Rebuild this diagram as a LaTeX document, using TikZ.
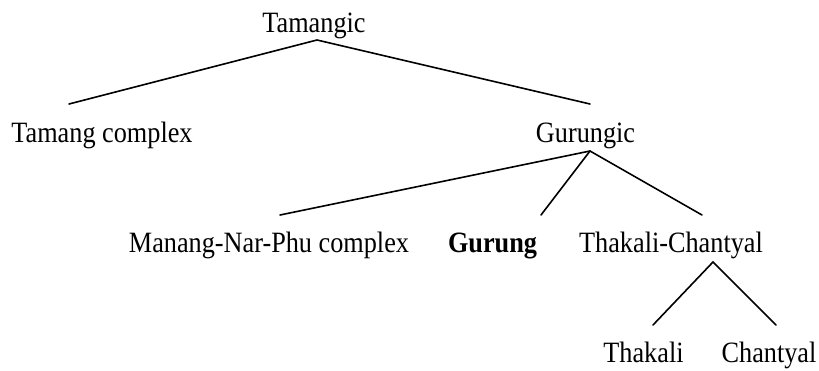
\documentclass[tikz,border=0pt]{standalone}
\usepackage{fontspec}
\setmainfont[FakeStretch=0.89]{Liberation Serif}
\begin{document}
\begin{tikzpicture}[x=1pt,y=-1pt,
  lang/.style={inner sep=0pt,anchor=base,font=\fontsize{29.5}{34}\selectfont},
  branch/.style={line width=1.6pt,line cap=round}]
\useasboundingbox (0,0) rectangle (819,370);
% labels
\node[lang] (tamangic) at (314,32) {Tamangic};
\node[lang] (tamang) at (102,142) {Tamang complex};
\node[lang] (gurungic) at (585.5,142) {Gurungic};
\node[lang] (manang) at (269,252) {Manang-Nar-Phu complex};
\node[lang,font=\fontsize{29.5}{34}\selectfont\bfseries] (gurung) at (492.5,252) {Gurung};
\node[lang] (thch) at (671,252) {Thakali-Chantyal};
\node[lang] (thakali) at (643.5,362) {Thakali};
\node[lang] (chantyal) at (769,362) {Chantyal};
% branch points
\coordinate (tamangic-b) at (317,40);
\coordinate (tamang-t) at (69,104);
\coordinate (gurungic-t) at (590,104);
\coordinate (gurungic-b) at (590,151);
\coordinate (manang-t) at (280,215);
\coordinate (gurung-t) at (541,215);
\coordinate (thch-t) at (702,215);
\coordinate (thch-b) at (713,262);
\coordinate (thakali-t) at (653,325);
\coordinate (chantyal-t) at (776,325);
% branches
\draw[branch] (tamang-t) -- (tamangic-b) -- (gurungic-t);
\draw[branch] (manang-t) -- (gurungic-b) -- (thch-t);
\draw[branch] (gurungic-b) -- (gurung-t);
\draw[branch] (thakali-t) -- (thch-b) -- (chantyal-t);
\end{tikzpicture}
\end{document}
